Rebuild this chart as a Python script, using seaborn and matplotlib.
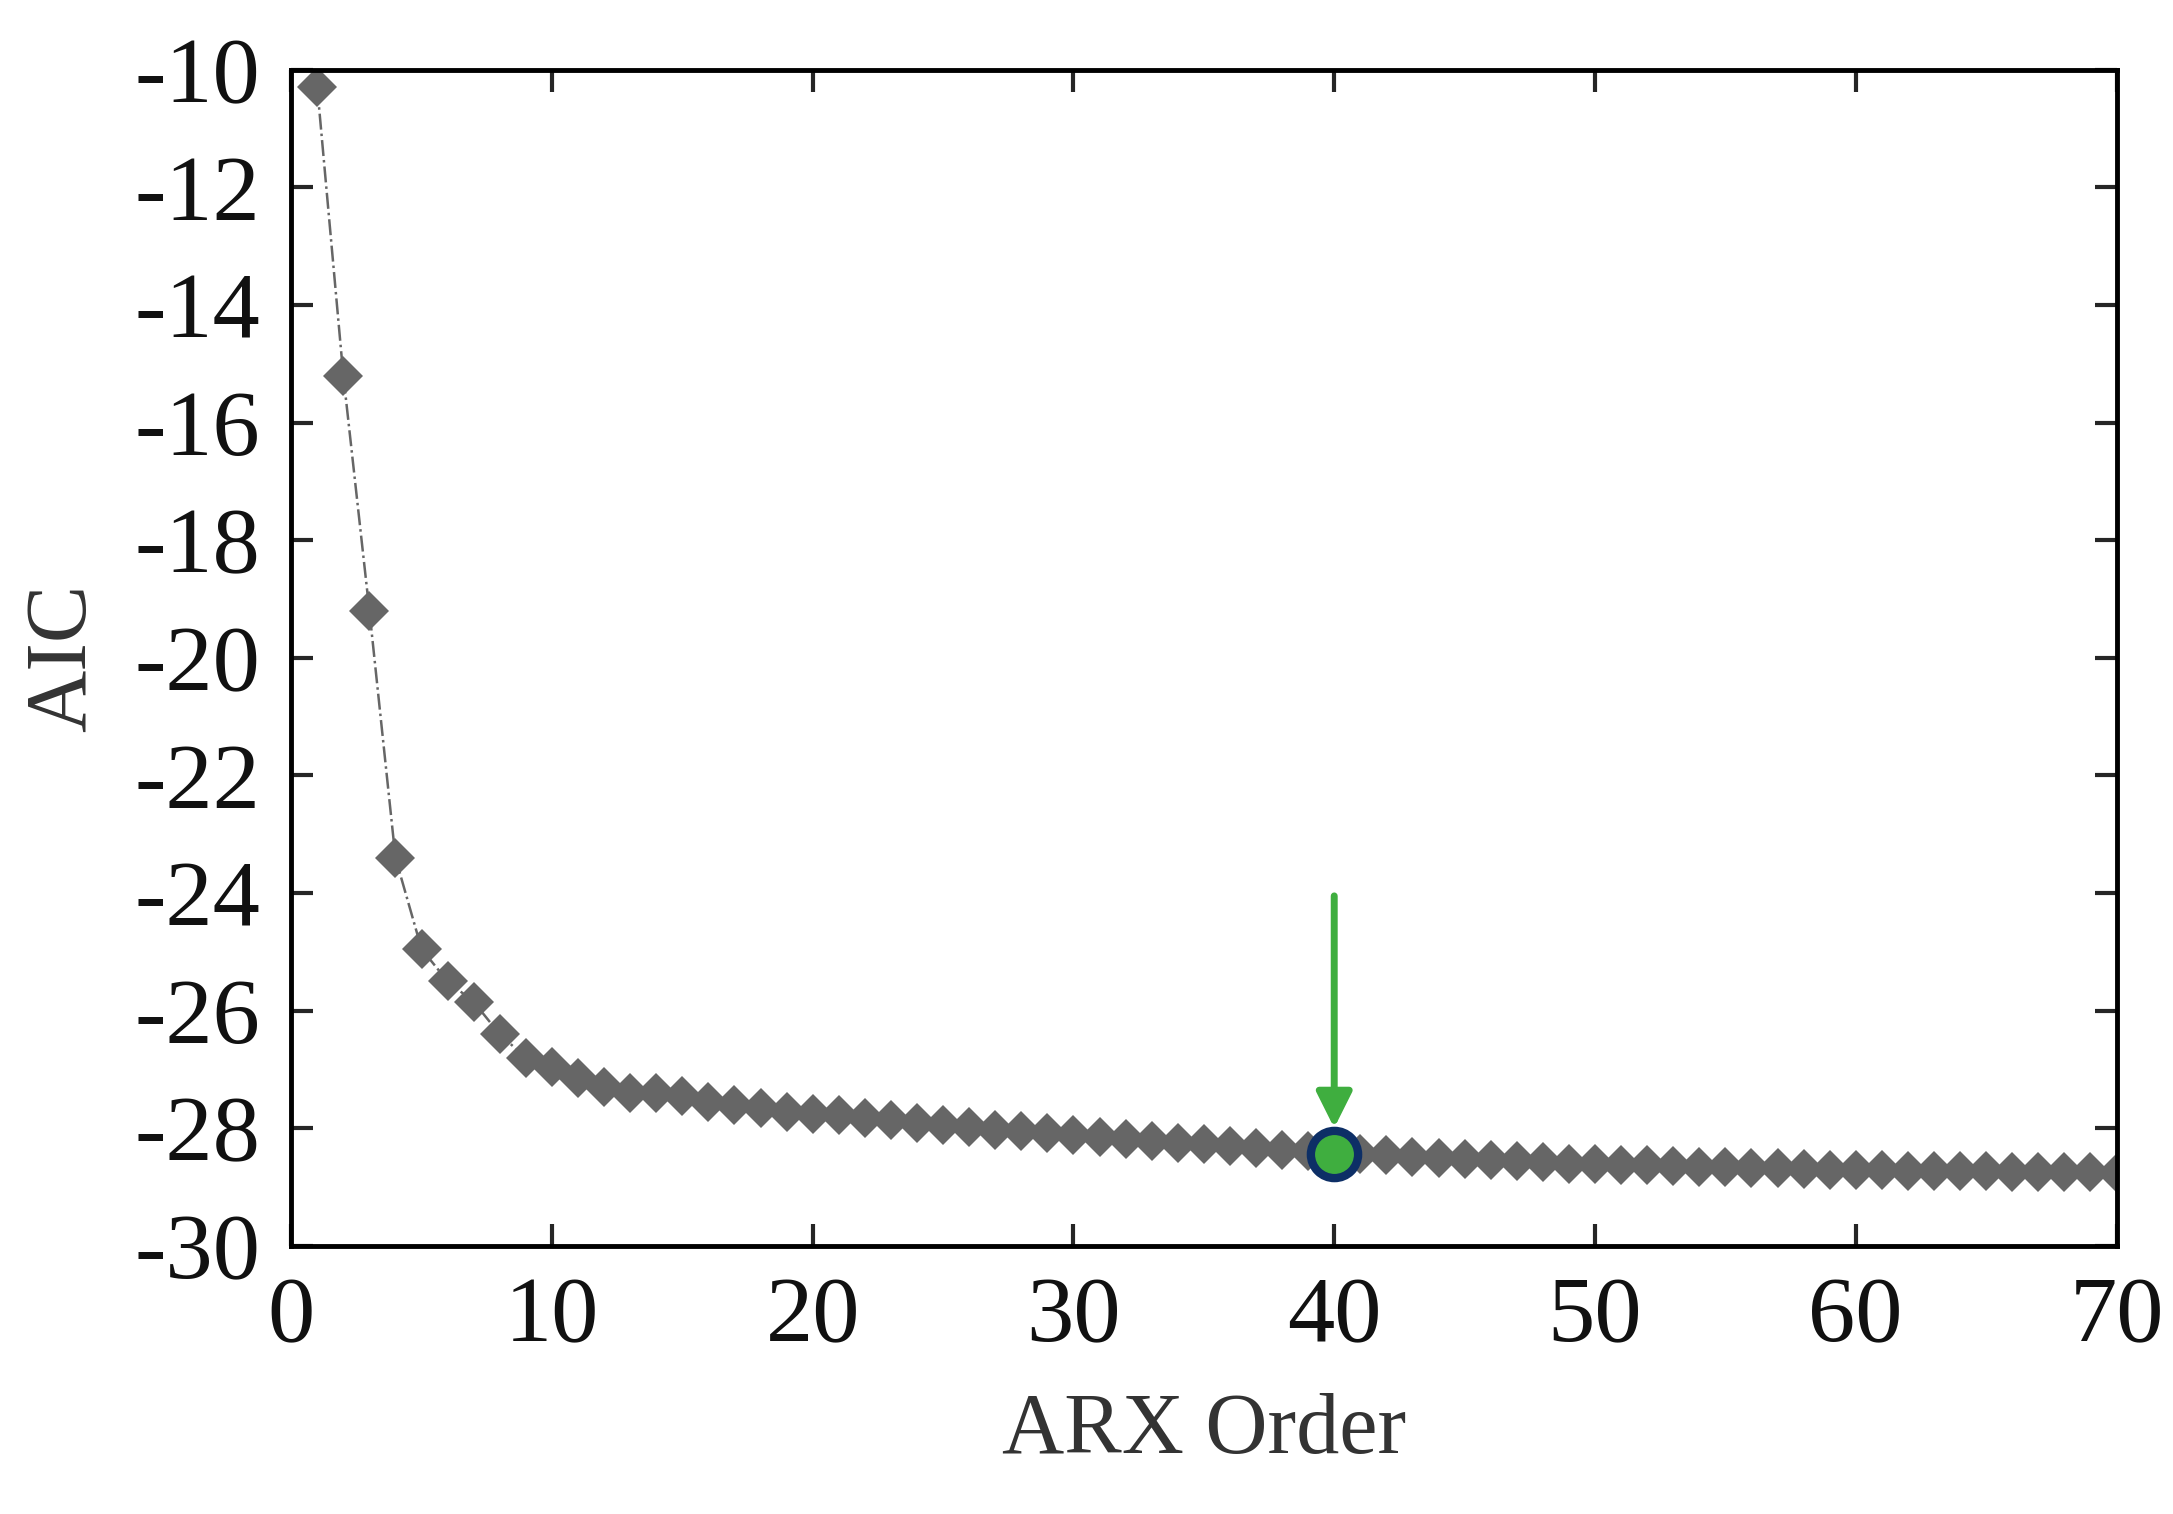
import numpy as np
import matplotlib.pyplot as plt
import seaborn as sns

# AIC for each ARX order
orders = list(range(1, 71))
aic = [-10.3, -15.2, -19.2, -23.4, -24.95, -25.5, -25.85, -26.4, -26.8, -26.95,
       -27.15, -27.3, -27.4, -27.4, -27.45, -27.55, -27.6, -27.65, -27.72, -27.75,
       -27.78, -27.82, -27.86, -27.9, -27.94, -27.98, -28.02, -28.05, -28.08, -28.12,
       -28.15, -28.18, -28.21, -28.24, -28.27, -28.3, -28.33, -28.36, -28.39, -28.44,
       -28.44, -28.46, -28.48, -28.5, -28.52, -28.54, -28.56, -28.58, -28.6, -28.61,
       -28.62, -28.63, -28.64, -28.65, -28.66, -28.67, -28.68, -28.69, -28.7, -28.7,
       -28.71, -28.72, -28.72, -28.73, -28.73, -28.74, -28.74, -28.75, -28.75, -28.76]
best_order = 40

sns.set_theme(style="ticks")
plt.rcParams['font.family'] = ['Liberation Serif', 'DejaVu Serif']
plt.rcParams['axes.unicode_minus'] = False

fig = plt.figure(figsize=(21.73, 15.14), dpi=100)
ax = fig.add_axes([0.134, 0.177, 0.84, 0.777])

sns.lineplot(x=orders, y=aic, ax=ax, color='#666666', linewidth=1.8,
             linestyle='-.', marker='D', markersize=20, markeredgewidth=0)

idx = orders.index(best_order)
ax.plot(best_order, aic[idx], 'o', markersize=34, markerfacecolor='#3fae3f',
        markeredgecolor='#0d2f66', markeredgewidth=6, zorder=5)
ax.annotate('', xy=(best_order, aic[idx] + 0.4), xytext=(best_order, -24),
            arrowprops=dict(arrowstyle='-|>,head_width=0.9,head_length=1.8',
                            color='#3fae3f', lw=5), zorder=6)

ax.set_xlim(0, 70)
ax.set_ylim(-30, -10)
ax.set_xticks(range(0, 71, 10))
ax.set_yticks(range(-30, -9, 2))
ax.tick_params(direction='in', length=16, width=3, labelsize=68,
               labelcolor='#111111', top=True, right=True, pad=22)
for s in ax.spines.values():
    s.set_linewidth(3.5)
    s.set_color('black')
ax.set_xlabel('ARX Order', fontsize=62, color='#333333', labelpad=22)
ax.set_ylabel('AIC', fontsize=62, color='#333333', labelpad=22)

fig.savefig('out.png', dpi=100)
